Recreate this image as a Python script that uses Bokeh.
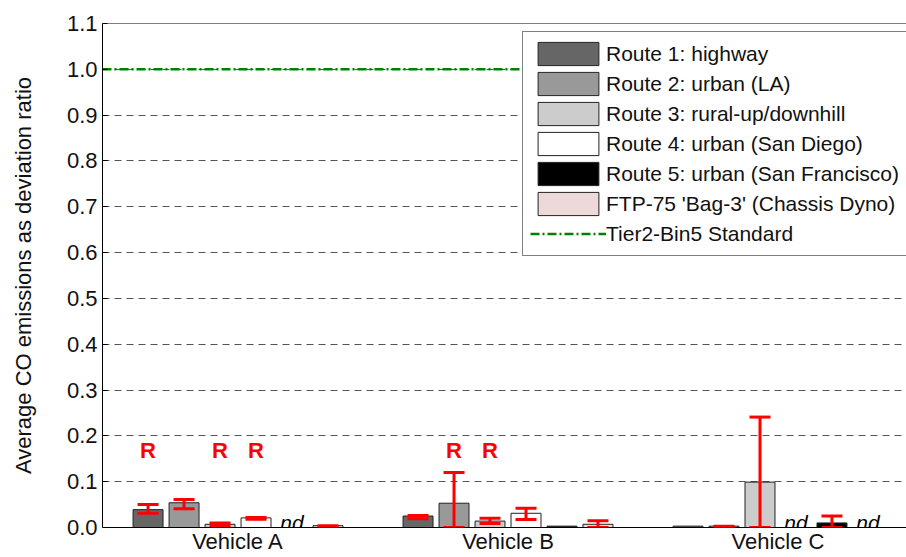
import numpy as np
from bokeh.plotting import figure
from bokeh.models import (ColumnDataSource, Range1d, FixedTicker, Whisker, TeeHead,
                          Legend, LegendItem, Span, PrintfTickFormatter)
from bokeh.core.properties import value
from bokeh.embed import file_html
from bokeh.resources import INLINE

nan = float("nan")

# ---------------- data ----------------
vehicles = ["Vehicle A", "Vehicle B", "Vehicle C"]
series_names = ["Route 1: highway", "Route 2: urban (LA)", "Route 3: rural-up/downhill",
                "Route 4: urban (San Diego)", "Route 5: urban (San Francisco)",
                "FTP-75 'Bag-3' (Chassis Dyno)"]
series_colors = ["#666666", "#999999", "#cccccc", "#ffffff", "#000000", "#eed9d9"]

# mean values per vehicle (nan = not detected, "nd")
route1 = [0.039, 0.025, 0.003]
route2 = [0.054, 0.053, 0.003]
route3 = [0.007, 0.014, 0.099]
route4 = [0.021, 0.031, nan]
route5 = [nan, 0.003, 0.010]
ftp75 = [0.004, 0.007, nan]

# error bar bounds (nan = none drawn)
route1_lo = [0.031, 0.019, nan]
route1_hi = [0.050, 0.026, nan]
route2_lo = [0.041, 0.000, 0.000]
route2_hi = [0.061, 0.120, 0.003]
route3_lo = [0.004, 0.009, 0.000]
route3_hi = [0.010, 0.020, 0.241]
route4_lo = [0.018, 0.0175, nan]
route4_hi = [0.022, 0.042, nan]
route5_lo = [nan, nan, 0.000]
route5_hi = [nan, nan, 0.025]
ftp75_lo = [0.002, 0.000, nan]
ftp75_hi = [0.004, 0.015, nan]

# "R" flags per series and vehicle
route1_R = [True, False, False]
route2_R = [False, True, False]
route3_R = [True, True, False]
route4_R = [True, False, False]
route5_R = [False, False, False]
ftp75_R = [False, False, False]

standard_value = 1.0
standard_label = "Tier2-Bin5 Standard"
y_ticks = [0.0, 0.1, 0.2, 0.3, 0.4, 0.5, 0.6, 0.7, 0.8, 0.9, 1.0, 1.1]
y_label = "Average CO emissions as deviation ratio"

series_vals = [route1, route2, route3, route4, route5, ftp75]
series_lo = [route1_lo, route2_lo, route3_lo, route4_lo, route5_lo, ftp75_lo]
series_hi = [route1_hi, route2_hi, route3_hi, route4_hi, route5_hi, ftp75_hi]
series_R = [route1_R, route2_R, route3_R, route4_R, route5_R, ftp75_R]

# ---------------- layout ----------------
FONT = "Liberation Sans"
slot = 0.1333
bar_w = 0.111
x_start, x_end = -0.502, 2.476

p = figure(width=906, height=557, output_backend="svg", toolbar_location=None,
           x_range=Range1d(x_start, x_end), y_range=Range1d(0, 1.1),
           min_border_left=102, min_border_right=0, min_border_top=23, min_border_bottom=30)
p.outline_line_color = None
p.background_fill_color = "white"
p.border_fill_color = "white"

p.xgrid.visible = False
p.ygrid.ticker = FixedTicker(ticks=y_ticks)
p.ygrid.grid_line_color = "#555555"
p.ygrid.grid_line_dash = "7 5"
p.ygrid.grid_line_width = 1

p.yaxis.ticker = FixedTicker(ticks=y_ticks)
p.yaxis.formatter = PrintfTickFormatter(format="%.1f")
p.yaxis.axis_label = y_label
p.yaxis.axis_label_text_font = FONT
p.yaxis.axis_label_text_font_style = "normal"
p.yaxis.axis_label_text_font_size = "22px"
p.yaxis.axis_label_text_color = "#111111"
p.yaxis.axis_label_standoff = 28
p.yaxis.major_label_text_font = FONT
p.yaxis.major_label_text_font_size = "22px"
p.yaxis.major_label_text_color = "#111111"
p.yaxis.major_label_standoff = 5
p.yaxis.major_tick_in = 5
p.yaxis.major_tick_out = 0
p.yaxis.minor_tick_line_color = None
p.yaxis.axis_line_color = "black"

p.xaxis.ticker = FixedTicker(ticks=list(range(len(vehicles))))
p.xaxis.major_label_overrides = {i: v for i, v in enumerate(vehicles)}
p.xaxis.major_label_text_font = FONT
p.xaxis.major_label_text_font_size = "22px"
p.xaxis.major_label_text_color = "#111111"
p.xaxis.major_label_standoff = 1
p.xaxis.major_tick_in = 0
p.xaxis.major_tick_out = 0
p.xaxis.major_tick_line_color = None
p.xaxis.minor_tick_line_color = None
p.xaxis.minor_tick_in = 0
p.xaxis.minor_tick_out = 0
p.xaxis.axis_line_color = "black"

# top border
p.add_layout(Span(location=1.1, dimension="width", line_color="black", line_width=1))

# standard line
std_r = p.line([x_start, x_end], [standard_value, standard_value], line_color="#008000",
               line_width=2.5, line_dash="9 3 2 3")

legend_items = []
n_ser = len(series_vals)
for j in range(n_ser):
    xs = [i + (j - (n_ser - 1) / 2) * slot for i in range(len(vehicles))]
    vals = series_vals[j]
    bx = [x for x, v in zip(xs, vals) if not np.isnan(v)]
    bv = [v for v in vals if not np.isnan(v)]
    src = ColumnDataSource(dict(x=bx, top=bv))
    r = p.vbar(x="x", top="top", width=bar_w, source=src, fill_color=series_colors[j],
               line_color="#222222", line_width=1)
    legend_items.append(LegendItem(label=series_names[j], renderers=[r]))

    # nd labels
    nd_x = [x for x, v in zip(xs, vals) if np.isnan(v)]
    if nd_x:
        p.text(x=nd_x, y=[0.011] * len(nd_x), text=["nd"] * len(nd_x),
               text_font=value(FONT), text_font_style="italic", text_font_size="21px",
               text_align="center", text_baseline="alphabetic", text_color="black")

    # R labels
    r_x = [x for x, f in zip(xs, series_R[j]) if f]
    if r_x:
        p.text(x=r_x, y=[0.168] * len(r_x), text=["R"] * len(r_x),
               text_font=value(FONT), text_font_style="bold", text_font_size="22px",
               text_align="center", text_baseline="middle", text_color="#ff0000")

    # error bars
    lo, hi = series_lo[j], series_hi[j]
    ex = [x for x, a in zip(xs, lo) if not np.isnan(a)]
    el = [a for a in lo if not np.isnan(a)]
    eh = [b for b in hi if not np.isnan(b)]
    if ex:
        esrc = ColumnDataSource(dict(base=ex, lower=el, upper=eh))
        w = Whisker(base="base", lower="lower", upper="upper", source=esrc, dimension="height",
                    line_color="#ff0000", line_width=3, level="overlay",
                    upper_head=TeeHead(size=21, line_color="#ff0000", line_width=3),
                    lower_head=TeeHead(size=21, line_color="#ff0000", line_width=3))
        p.add_layout(w)

legend_items.append(LegendItem(label=standard_label, renderers=[std_r]))

legend = Legend(items=legend_items, location=(420, 271))
legend.label_text_font = FONT
legend.label_text_font_size = "21px"
legend.label_text_color = "#111111"
legend.glyph_width = 76
legend.glyph_height = 29
legend.label_height = 23
legend.label_standoff = 0
legend.spacing = 1
legend.padding = 7
legend.margin = 0
legend.border_line_color = "black"
legend.border_line_width = 1
legend.background_fill_color = "white"
legend.background_fill_alpha = 1.0
p.add_layout(legend)

open("out.html", "w").write(file_html(p, INLINE))
